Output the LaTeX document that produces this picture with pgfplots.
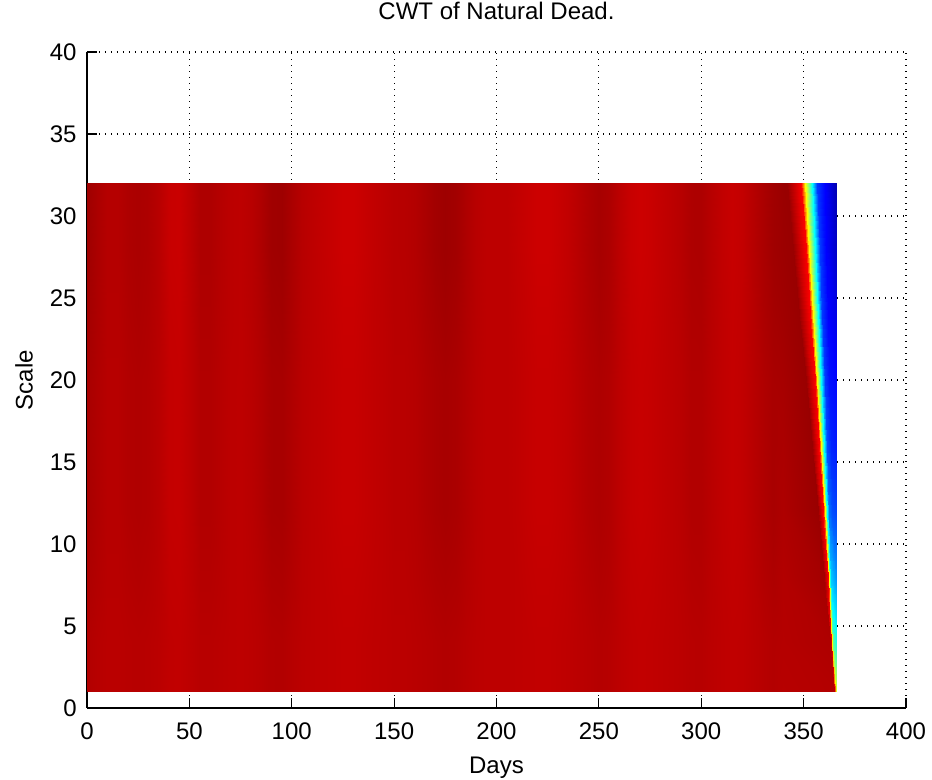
\documentclass[border=0pt]{standalone}
\usepackage{fontspec}
\setmainfont{Liberation Sans}
\usepackage{pgfplots}
\pgfplotsset{compat=1.18}
\begin{document}
\begin{tikzpicture}
\begin{axis}[
  scale only axis, width=409.5pt, height=328pt,
  xmin=0, xmax=400, ymin=0, ymax=40,
  xtick={0,50,100,150,200,250,300,350,400},
  ytick={0,5,10,15,20,25,30,35,40},
  axis lines*=left,
  axis line style={line width=0.75pt, black},
  tick align=inside, major tick length=5pt,
  tick style={black, line width=0.6pt},
  grid=major,
  major grid style={black, line width=0.6pt, dash pattern=on 0.6pt off 2.4pt},
  colormap/jet, point meta min=0, point meta max=1,
  /pgf/number format/assume math mode=true,
  every tick label/.append style={font=\fontsize{12}{14}\selectfont},
  xticklabel style={inner sep=0pt, yshift=-7pt},
  yticklabel style={inner sep=0pt, xshift=-5pt},
  title={CWT of Natural Dead.},
  title style={at={(axis description cs:0.5,1.0305)}, anchor=base, inner sep=0pt, font=\fontsize{12}{14}\selectfont},
  xlabel={Days},
  xlabel style={at={(axis description cs:0.5,-0.0991)}, anchor=base, inner sep=0pt, font=\fontsize{12}{14}\selectfont},
  ylabel={Scale},
  ylabel style={at={(axis description cs:-0.0769,0.5)}, anchor=center, inner sep=0pt, font=\fontsize{12}{14}\selectfont},
]
\addplot[surf, shader=interp, mesh/rows=9, mesh/cols=76, point meta=explicit] coordinates {
(0,1)[.951] (5,1)[.946] (10,1)[.943] (15,1)[.943] (20,1)[.945] (25,1)[.946] (30,1)[.945] (35,1)[.942] (40,1)[.937] (45,1)[.936]
(50,1)[.940] (55,1)[.945] (60,1)[.945] (65,1)[.943] (70,1)[.941] (75,1)[.940] (80,1)[.942] (85,1)[.945] (90,1)[.950] (95,1)[.951]
(100,1)[.946] (105,1)[.942] (110,1)[.940] (115,1)[.938] (120,1)[.937] (125,1)[.935] (130,1)[.935] (135,1)[.937] (140,1)[.939] (145,1)[.940]
(150,1)[.942] (155,1)[.942] (160,1)[.944] (165,1)[.946] (170,1)[.949] (175,1)[.951] (180,1)[.949] (185,1)[.945] (190,1)[.942] (195,1)[.940]
(200,1)[.940] (205,1)[.940] (210,1)[.938] (215,1)[.937] (220,1)[.935] (225,1)[.935] (230,1)[.937] (235,1)[.939] (240,1)[.942] (245,1)[.945]
(250,1)[.948] (255,1)[.946] (260,1)[.941] (265,1)[.937] (270,1)[.935] (275,1)[.936] (280,1)[.938] (285,1)[.940] (290,1)[.942] (295,1)[.945]
(300,1)[.946] (305,1)[.942] (310,1)[.939] (315,1)[.937] (320,1)[.938] (325,1)[.942] (330,1)[.946] (335,1)[.950]
(340,1)[.946] (365.2,1)[.95] (365.43,1)[.90] (365.5,1)[.80] (365.6,1)[.70] (365.69,1)[.66] (365.81,1)[.63] (366,1)[.60]

(0,4)[.951] (5,4)[.946] (10,4)[.943] (15,4)[.943] (20,4)[.945] (25,4)[.946] (30,4)[.945] (35,4)[.942] (40,4)[.937] (45,4)[.936]
(50,4)[.940] (55,4)[.945] (60,4)[.945] (65,4)[.943] (70,4)[.941] (75,4)[.940] (80,4)[.942] (85,4)[.945] (90,4)[.950] (95,4)[.951]
(100,4)[.946] (105,4)[.942] (110,4)[.940] (115,4)[.938] (120,4)[.937] (125,4)[.935] (130,4)[.935] (135,4)[.937] (140,4)[.939] (145,4)[.940]
(150,4)[.942] (155,4)[.942] (160,4)[.944] (165,4)[.946] (170,4)[.949] (175,4)[.951] (180,4)[.949] (185,4)[.945] (190,4)[.942] (195,4)[.940]
(200,4)[.940] (205,4)[.940] (210,4)[.938] (215,4)[.937] (220,4)[.935] (225,4)[.935] (230,4)[.937] (235,4)[.939] (240,4)[.942] (245,4)[.945]
(250,4)[.948] (255,4)[.946] (260,4)[.941] (265,4)[.937] (270,4)[.935] (275,4)[.936] (280,4)[.938] (285,4)[.940] (290,4)[.942] (295,4)[.945]
(300,4)[.946] (305,4)[.942] (310,4)[.939] (315,4)[.937] (320,4)[.938] (325,4)[.942] (330,4)[.946] (335,4)[.950]
(340,4)[.948] (363.0,4)[.955] (363.9,4)[.88] (364.1,4)[.63] (364.5,4)[.47] (364.8,4)[.44] (365.3,4)[.42] (366,4)[.40]

(0,8)[.956] (5,8)[.950] (10,8)[.945] (15,8)[.945] (20,8)[.948] (25,8)[.950] (30,8)[.948] (35,8)[.943] (40,8)[.935] (45,8)[.934]
(50,8)[.940] (55,8)[.948] (60,8)[.948] (65,8)[.945] (70,8)[.941] (75,8)[.940] (80,8)[.943] (85,8)[.948] (90,8)[.955] (95,8)[.956]
(100,8)[.950] (105,8)[.943] (110,8)[.940] (115,8)[.938] (120,8)[.935] (125,8)[.933] (130,8)[.933] (135,8)[.935] (140,8)[.938] (145,8)[.940]
(150,8)[.943] (155,8)[.943] (160,8)[.946] (165,8)[.950] (170,8)[.954] (175,8)[.956] (180,8)[.954] (185,8)[.948] (190,8)[.943] (195,8)[.940]
(200,8)[.940] (205,8)[.940] (210,8)[.938] (215,8)[.935] (220,8)[.933] (225,8)[.933] (230,8)[.935] (235,8)[.938] (240,8)[.943] (245,8)[.948]
(250,8)[.952] (255,8)[.949] (260,8)[.941] (265,8)[.935] (270,8)[.933] (275,8)[.934] (280,8)[.937] (285,8)[.940] (290,8)[.943] (295,8)[.948]
(300,8)[.949] (305,8)[.943] (310,8)[.938] (315,8)[.935] (320,8)[.937] (325,8)[.943] (330,8)[.950] (335,8)[.955]
(340,8)[.950] (359.9,8)[.965] (361.7,8)[.88] (362.2,8)[.63] (363.0,8)[.40] (363.6,8)[.32] (364.6,8)[.29] (366,8)[.27]

(0,12)[.961] (5,12)[.953] (10,12)[.946] (15,12)[.946] (20,12)[.951] (25,12)[.953] (30,12)[.951] (35,12)[.944] (40,12)[.933] (45,12)[.932]
(50,12)[.940] (55,12)[.951] (60,12)[.951] (65,12)[.946] (70,12)[.941] (75,12)[.940] (80,12)[.944] (85,12)[.951] (90,12)[.960] (95,12)[.961]
(100,12)[.953] (105,12)[.944] (110,12)[.940] (115,12)[.937] (120,12)[.933] (125,12)[.930] (130,12)[.930] (135,12)[.933] (140,12)[.937] (145,12)[.940]
(150,12)[.944] (155,12)[.944] (160,12)[.947] (165,12)[.953] (170,12)[.958] (175,12)[.961] (180,12)[.958] (185,12)[.951] (190,12)[.944] (195,12)[.940]
(200,12)[.940] (205,12)[.940] (210,12)[.937] (215,12)[.933] (220,12)[.930] (225,12)[.930] (230,12)[.933] (235,12)[.937] (240,12)[.944] (245,12)[.951]
(250,12)[.955] (255,12)[.951] (260,12)[.941] (265,12)[.933] (270,12)[.930] (275,12)[.932] (280,12)[.936] (285,12)[.940] (290,12)[.944] (295,12)[.951]
(300,12)[.951] (305,12)[.944] (310,12)[.937] (315,12)[.933] (320,12)[.936] (325,12)[.944] (330,12)[.953] (335,12)[.960]
(340,12)[.955] (356.9,12)[.975] (359.6,12)[.88] (360.3,12)[.63] (361.4,12)[.38] (362.5,12)[.23] (363.8,12)[.20] (366,12)[.19]

(0,16)[.961] (5,16)[.953] (10,16)[.946] (15,16)[.946] (20,16)[.951] (25,16)[.953] (30,16)[.951] (35,16)[.944] (40,16)[.933] (45,16)[.932]
(50,16)[.940] (55,16)[.951] (60,16)[.951] (65,16)[.946] (70,16)[.941] (75,16)[.940] (80,16)[.944] (85,16)[.951] (90,16)[.960] (95,16)[.961]
(100,16)[.953] (105,16)[.944] (110,16)[.940] (115,16)[.937] (120,16)[.933] (125,16)[.930] (130,16)[.930] (135,16)[.933] (140,16)[.937] (145,16)[.940]
(150,16)[.944] (155,16)[.944] (160,16)[.947] (165,16)[.953] (170,16)[.958] (175,16)[.961] (180,16)[.958] (185,16)[.951] (190,16)[.944] (195,16)[.940]
(200,16)[.940] (205,16)[.940] (210,16)[.937] (215,16)[.933] (220,16)[.930] (225,16)[.930] (230,16)[.933] (235,16)[.937] (240,16)[.944] (245,16)[.951]
(250,16)[.955] (255,16)[.951] (260,16)[.941] (265,16)[.933] (270,16)[.930] (275,16)[.932] (280,16)[.936] (285,16)[.940] (290,16)[.944] (295,16)[.951]
(300,16)[.951] (305,16)[.944] (310,16)[.937] (315,16)[.933] (320,16)[.936] (325,16)[.944] (330,16)[.953] (335,16)[.960]
(340,16)[.958] (354.0,16)[.975] (357.5,16)[.88] (358.5,16)[.63] (360.0,16)[.38] (361.4,16)[.20] (363.2,16)[.16] (366,16)[.15]

(0,20)[.961] (5,20)[.953] (10,20)[.946] (15,20)[.946] (20,20)[.951] (25,20)[.953] (30,20)[.951] (35,20)[.944] (40,20)[.933] (45,20)[.932]
(50,20)[.940] (55,20)[.951] (60,20)[.951] (65,20)[.946] (70,20)[.941] (75,20)[.940] (80,20)[.944] (85,20)[.951] (90,20)[.960] (95,20)[.961]
(100,20)[.953] (105,20)[.944] (110,20)[.940] (115,20)[.937] (120,20)[.933] (125,20)[.930] (130,20)[.930] (135,20)[.933] (140,20)[.937] (145,20)[.940]
(150,20)[.944] (155,20)[.944] (160,20)[.947] (165,20)[.953] (170,20)[.958] (175,20)[.961] (180,20)[.958] (185,20)[.951] (190,20)[.944] (195,20)[.940]
(200,20)[.940] (205,20)[.940] (210,20)[.937] (215,20)[.933] (220,20)[.930] (225,20)[.930] (230,20)[.933] (235,20)[.937] (240,20)[.944] (245,20)[.951]
(250,20)[.955] (255,20)[.951] (260,20)[.941] (265,20)[.933] (270,20)[.930] (275,20)[.932] (280,20)[.936] (285,20)[.940] (290,20)[.944] (295,20)[.951]
(300,20)[.951] (305,20)[.944] (310,20)[.937] (315,20)[.933] (320,20)[.936] (325,20)[.944] (330,20)[.953] (335,20)[.960]
(340,20)[.962] (351.0,20)[.975] (355.4,20)[.88] (356.6,20)[.63] (358.5,20)[.38] (360.2,20)[.18] (362.4,20)[.14] (366,20)[.13]

(0,24)[.966] (5,24)[.956] (10,24)[.947] (15,24)[.947] (20,24)[.953] (25,24)[.956] (30,24)[.953] (35,24)[.945] (40,24)[.932] (45,24)[.930]
(50,24)[.940] (55,24)[.953] (60,24)[.953] (65,24)[.947] (70,24)[.942] (75,24)[.940] (80,24)[.945] (85,24)[.953] (90,24)[.964] (95,24)[.966]
(100,24)[.956] (105,24)[.945] (110,24)[.940] (115,24)[.936] (120,24)[.932] (125,24)[.928] (130,24)[.928] (135,24)[.932] (140,24)[.937] (145,24)[.940]
(150,24)[.945] (155,24)[.945] (160,24)[.949] (165,24)[.956] (170,24)[.962] (175,24)[.966] (180,24)[.962] (185,24)[.953] (190,24)[.945] (195,24)[.940]
(200,24)[.940] (205,24)[.940] (210,24)[.936] (215,24)[.932] (220,24)[.928] (225,24)[.928] (230,24)[.932] (235,24)[.937] (240,24)[.945] (245,24)[.953]
(250,24)[.959] (255,24)[.954] (260,24)[.942] (265,24)[.932] (270,24)[.928] (275,24)[.930] (280,24)[.935] (285,24)[.940] (290,24)[.945] (295,24)[.953]
(300,24)[.954] (305,24)[.945] (310,24)[.937] (315,24)[.932] (320,24)[.935] (325,24)[.945] (330,24)[.956] (335,24)[.964]
(340,24)[.968] (347.9,24)[.975] (353.2,24)[.88] (354.7,24)[.63] (357.0,24)[.38] (359.0,24)[.18] (361.7,24)[.125] (366,24)[.10]

(0,28)[.970] (5,28)[.958] (10,28)[.948] (15,28)[.948] (20,28)[.955] (25,28)[.958] (30,28)[.955] (35,28)[.945] (40,28)[.930] (45,28)[.928]
(50,28)[.940] (55,28)[.955] (60,28)[.955] (65,28)[.948] (70,28)[.942] (75,28)[.940] (80,28)[.945] (85,28)[.955] (90,28)[.968] (95,28)[.970]
(100,28)[.958] (105,28)[.946] (110,28)[.940] (115,28)[.935] (120,28)[.930] (125,28)[.925] (130,28)[.925] (135,28)[.930] (140,28)[.936] (145,28)[.940]
(150,28)[.945] (155,28)[.946] (160,28)[.950] (165,28)[.958] (170,28)[.966] (175,28)[.970] (180,28)[.966] (185,28)[.955] (190,28)[.945] (195,28)[.940]
(200,28)[.940] (205,28)[.940] (210,28)[.935] (215,28)[.930] (220,28)[.925] (225,28)[.925] (230,28)[.930] (235,28)[.936] (240,28)[.945] (245,28)[.955]
(250,28)[.962] (255,28)[.956] (260,28)[.942] (265,28)[.930] (270,28)[.925] (275,28)[.928] (280,28)[.934] (285,28)[.940] (290,28)[.946] (295,28)[.955]
(300,28)[.956] (305,28)[.946] (310,28)[.936] (315,28)[.930] (320,28)[.934] (325,28)[.946] (330,28)[.958] (335,28)[.968]
(340,28)[.972] (344.9,28)[.975] (351.1,28)[.88] (352.8,28)[.63] (355.4,28)[.38] (357.8,28)[.18] (361.0,28)[.125] (366,28)[.07]

(0,32)[.970] (5,32)[.958] (10,32)[.948] (15,32)[.948] (20,32)[.955] (25,32)[.958] (30,32)[.955] (35,32)[.945] (40,32)[.930] (45,32)[.928]
(50,32)[.940] (55,32)[.955] (60,32)[.955] (65,32)[.948] (70,32)[.942] (75,32)[.940] (80,32)[.945] (85,32)[.955] (90,32)[.968] (95,32)[.970]
(100,32)[.958] (105,32)[.946] (110,32)[.940] (115,32)[.935] (120,32)[.930] (125,32)[.925] (130,32)[.925] (135,32)[.930] (140,32)[.936] (145,32)[.940]
(150,32)[.945] (155,32)[.946] (160,32)[.950] (165,32)[.958] (170,32)[.966] (175,32)[.970] (180,32)[.966] (185,32)[.955] (190,32)[.945] (195,32)[.940]
(200,32)[.940] (205,32)[.940] (210,32)[.935] (215,32)[.930] (220,32)[.925] (225,32)[.925] (230,32)[.930] (235,32)[.936] (240,32)[.945] (245,32)[.955]
(250,32)[.962] (255,32)[.956] (260,32)[.942] (265,32)[.930] (270,32)[.925] (275,32)[.928] (280,32)[.934] (285,32)[.940] (290,32)[.946] (295,32)[.955]
(300,32)[.956] (305,32)[.946] (310,32)[.936] (315,32)[.930] (320,32)[.934] (325,32)[.946] (330,32)[.958] (335,32)[.968]
(340,32)[.975] (341.8,32)[.975] (348.9,32)[.88] (350.9,32)[.63] (353.9,32)[.38] (356.6,32)[.18] (360.3,32)[.125] (366,32)[.05]
};
\coordinate (SW) at (rel axis cs:0,0);
\coordinate (NE) at (rel axis cs:1,1);
\end{axis}
\pgfresetboundingbox
\path[use as bounding box] ([shift={(-43.5pt,-36pt)}]SW) rectangle ([shift={(13pt,26pt)}]NE);
\end{tikzpicture}
\end{document}
